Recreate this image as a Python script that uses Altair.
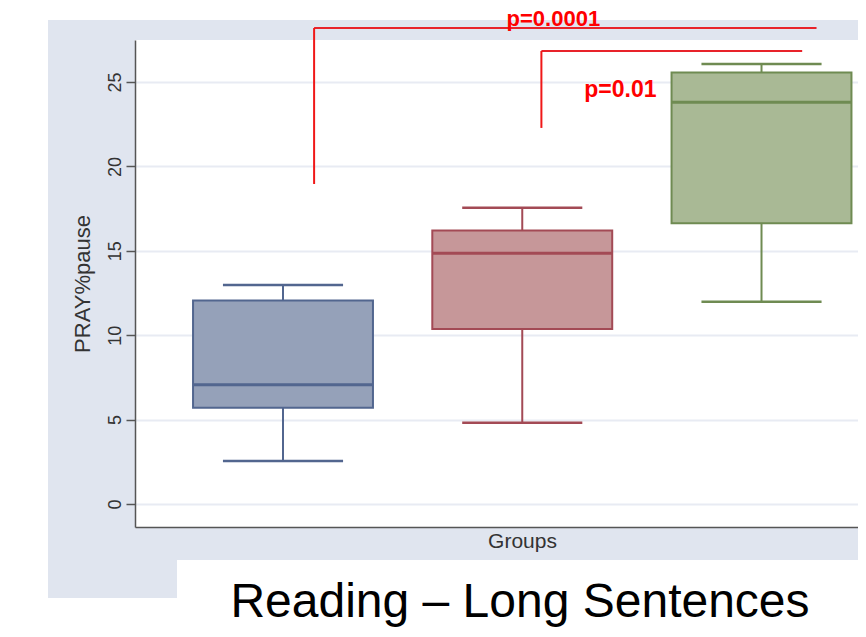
import altair as alt
import pandas as pd

# ---- data ----
groups = ["Group 1", "Group 2", "Group 3"]
positions = [1, 2, 3]
lower_whisker = [2.55, 4.82, 11.98]
q1 = [5.70, 10.37, 16.63]
median = [7.07, 14.85, 23.80]
q3 = [12.05, 16.20, 25.57]
upper_whisker = [12.97, 17.55, 26.07]

fill_colors = ["#95a1b9", "#c69799", "#a9b995"]
stroke_colors = ["#52668f", "#a34a55", "#6f8b52"]

# significance brackets
br_x_left = [1.13, 2.08]
br_x_right = [3.23, 3.17]
br_top = [28.20, 26.84]
br_bottom = [18.96, 22.28]
p_labels = ["p=0.0001", "p=0.01"]
p_x = [2.13, 2.41]
p_y = [28.32, 24.10]

y_ticks = [0, 5, 10, 15, 20, 25]
chart_title = "Reading – Long Sentences"

BOX_HALF = 0.376
CAP_HALF = 0.251

df = pd.DataFrame({
    "group": groups,
    "pos": positions,
    "lw": lower_whisker,
    "q1": q1,
    "med": median,
    "q3": q3,
    "uw": upper_whisker,
})
df["left"] = df["pos"] - BOX_HALF
df["right"] = df["pos"] + BOX_HALF
df["cap_l"] = df["pos"] - CAP_HALF
df["cap_r"] = df["pos"] + CAP_HALF

brackets = pd.DataFrame({"xl": br_x_left, "xr": br_x_right, "top": br_top, "bot": br_bottom})
plabels = pd.DataFrame({"label": p_labels, "x": p_x, "y": p_y, "size": [22, 23]})

xscale = alt.Scale(domain=[0.3814, 3.4033], nice=False, zero=False)
yscale = alt.Scale(domain=[-1.363, 27.49], nice=False, zero=False)

color_scale = alt.Scale(domain=groups, range=fill_colors)
stroke_scale = alt.Scale(domain=groups, range=stroke_colors)

base = alt.Chart(df)

xaxis = alt.Axis(labels=False, ticks=False, grid=False, domain=True,
                 domainColor="#555555", domainWidth=1.5,
                 title="Groups", titleFont="Liberation Sans", titleFontSize=21,
                 titleFontWeight="normal", titleColor="#333333",
                 titleX=387, titleY=3, titleBaseline="top", titleAlign="center")
yaxis = alt.Axis(values=y_ticks, grid=True, gridColor="#e8ebf3", gridWidth=2,
                 domain=True, domainColor="#555555", domainWidth=1.5,
                 tickColor="#555555", tickSize=9, tickWidth=1.5,
                 labelAngle=270, labelAlign="center", labelBaseline="alphabetic",
                 labelPadding=6, labelFont="Liberation Sans", labelFontSize=18,
                 labelColor="#333333",
                 title="PRAY%pause", titleFont="Liberation Sans", titleFontSize=22,
                 titleFontWeight="normal", titleColor="#333333", titlePadding=12)

# white regions outside the grey panel (decoration)
white = pd.DataFrame({"a": [0]})
def white_rect(x, x2, y, y2):
    return alt.Chart(white).mark_rect(color="white").encode(
        x=alt.value(x), x2=alt.value(x2), y=alt.value(y), y2=alt.value(y2))

bg = [
    white_rect(-140, -87, -40, 600),
    white_rect(-140, 740, -40, -20),
    white_rect(42, 740, 520, 600),
    white_rect(-140, 42, 558, 600),
]

title_mark = alt.Chart(pd.DataFrame({"t": [chart_title]})).mark_text(
    font="Liberation Sans", fontSize=48, color="black",
    align="center", baseline="alphabetic",
).encode(x=alt.value(385), y=alt.value(577), text="t:N")

whisk_low = base.mark_rule(strokeWidth=2).encode(
    x=alt.X("pos:Q", scale=xscale, axis=xaxis),
    y=alt.Y("lw:Q", scale=yscale, axis=yaxis),
    y2="q1:Q",
    color=alt.Color("group:N", scale=stroke_scale, legend=None),
)
whisk_high = base.mark_rule(strokeWidth=2).encode(
    x="pos:Q", y="q3:Q", y2="uw:Q",
    color=alt.Color("group:N", scale=stroke_scale, legend=None),
)
cap_low = base.mark_rule(strokeWidth=2.5).encode(
    x="cap_l:Q", x2="cap_r:Q", y="lw:Q",
    color=alt.Color("group:N", scale=stroke_scale, legend=None),
)
cap_high = base.mark_rule(strokeWidth=2.5).encode(
    x="cap_l:Q", x2="cap_r:Q", y="uw:Q",
    color=alt.Color("group:N", scale=stroke_scale, legend=None),
)
boxes = base.mark_rect(strokeWidth=2).encode(
    x="left:Q", x2="right:Q", y="q1:Q", y2="q3:Q",
    fill=alt.Fill("group:N", scale=color_scale, legend=None),
    stroke=alt.Stroke("group:N", scale=stroke_scale, legend=None),
)
medians = base.mark_rule(strokeWidth=3).encode(
    x="left:Q", x2="right:Q", y="med:Q",
    color=alt.Color("group:N", scale=stroke_scale, legend=None),
)

br = alt.Chart(brackets)
br_h = br.mark_rule(color="#e8232a", strokeWidth=2).encode(x="xl:Q", x2="xr:Q", y="top:Q")
br_v = br.mark_rule(color="#f01818", strokeWidth=2).encode(x="xl:Q", y="bot:Q", y2="top:Q")
ptext = alt.Chart(plabels).mark_text(color="#ff0000", font="Liberation Sans",
                                     fontWeight="bold",
                                     baseline="alphabetic", align="center").encode(
    x="x:Q", y="y:Q", text="label:N",
    size=alt.Size("size:Q", scale=None, legend=None))

chart = alt.layer(
    *bg, whisk_low, whisk_high, cap_low, cap_high, boxes, medians, br_h, br_v, ptext,
    title_mark,
).properties(
    width=723,
    height=487,
    autosize="none",
    padding={"left": 127, "top": 32, "right": 0, "bottom": 100},
    background="#e0e5ef",
).configure_view(fill="white", stroke=None)

chart.save("out.html", embed_options={"renderer": "svg", "actions": False})
